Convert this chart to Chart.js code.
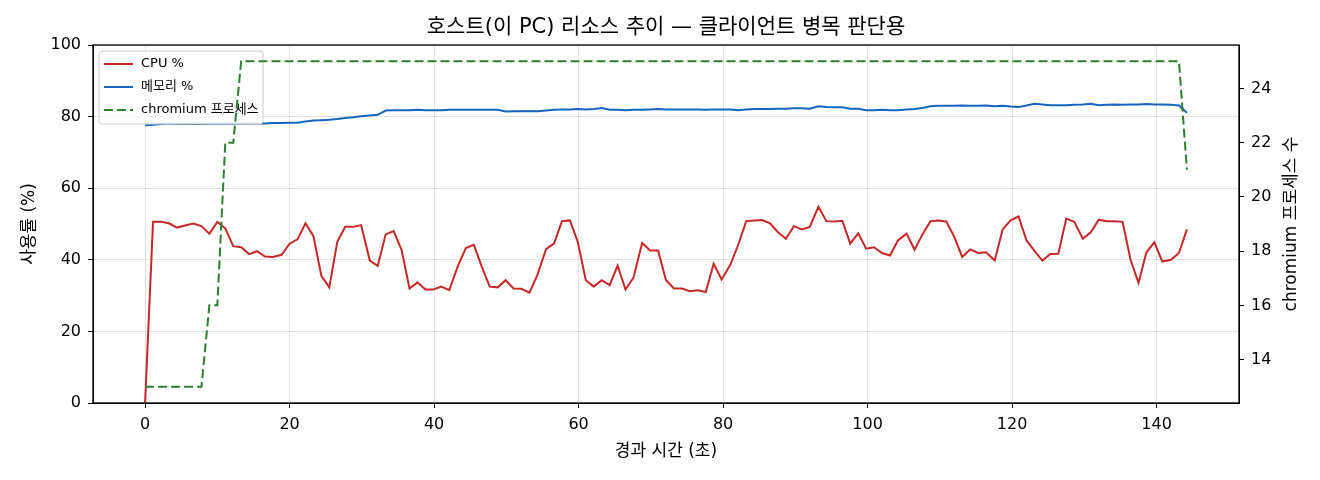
<!DOCTYPE html>
<html>
<head>
<meta charset="utf-8">
<script src="https://cdn.jsdelivr.net/npm/chart.js@4.4.1/dist/chart.umd.min.js"></script>
<style>
  html, body { margin: 0; padding: 0; background: #fff; }
  #wrap { width: 1320px; height: 480px; }
</style>
</head>
<body>
<div id="wrap"><canvas id="myChart" width="1320" height="480"></canvas></div>
<script>
// elapsed time of each sample (s)
var times = [
  0.0, 1.1, 2.2, 3.3, 4.4, 5.5, 6.7, 7.8, 8.9, 10.0,
  11.1, 12.2, 13.3, 14.4, 15.5, 16.6, 17.7, 18.9, 20.0, 21.1,
  22.2, 23.3, 24.4, 25.5, 26.6, 27.7, 28.8, 29.9, 31.1, 32.2,
  33.3, 34.4, 35.5, 36.6, 37.7, 38.8, 39.9, 41.0, 42.1, 43.3,
  44.4, 45.5, 46.6, 47.7, 48.8, 49.9, 51.0, 52.1, 53.2, 54.3,
  55.5, 56.6, 57.7, 58.8, 59.9, 61.0, 62.1, 63.2, 64.3, 65.4,
  66.5, 67.6, 68.8, 69.9, 71.0, 72.1, 73.2, 74.3, 75.4, 76.5,
  77.6, 78.7, 79.8, 81.0, 82.1, 83.2, 84.3, 85.4, 86.5, 87.6,
  88.7, 89.8, 90.9, 92.0, 93.2, 94.3, 95.4, 96.5, 97.6, 98.7,
  99.8, 100.9, 102.0, 103.1, 104.2, 105.4, 106.5, 107.6, 108.7, 109.8,
  110.9, 112.0, 113.1, 114.2, 115.3, 116.4, 117.6, 118.7, 119.8, 120.9,
  122.0, 123.1, 124.2, 125.3, 126.4, 127.5, 128.6, 129.8, 130.9, 132.0,
  133.1, 134.2, 135.3, 136.4, 137.5, 138.6, 139.7, 140.8, 142.0, 143.1,
  144.2
];

var cpuPct = [
  0, 50.6, 50.6, 50.2, 49.0, 49.6, 50.1, 49.4, 47.3, 50.6,
  48.8, 43.8, 43.5, 41.6, 42.4, 40.9, 40.8, 41.4, 44.5, 45.7,
  50.2, 46.6, 35.5, 32.3, 45.0, 49.2, 49.2, 49.7, 39.8, 38.3,
  47.1, 48.0, 42.8, 32.0, 33.7, 31.7, 31.7, 32.5, 31.5, 38.3,
  43.3, 44.2, 38.1, 32.5, 32.3, 34.3, 32.0, 31.9, 30.8, 35.8,
  43.0, 44.5, 50.8, 51.0, 44.9, 34.3, 32.5, 34.3, 32.9, 38.4,
  31.7, 35.0, 44.7, 42.6, 42.6, 34.3, 32.0, 32.0, 31.2, 31.5,
  31.0, 38.9, 34.5, 38.6, 44.2, 50.8, 51.0, 51.1, 50.2, 47.7,
  45.9, 49.4, 48.5, 49.2, 54.8, 50.8, 50.7, 50.9, 44.5, 47.4,
  43.1, 43.5, 41.9, 41.2, 45.4, 47.3, 42.8, 47.1, 50.8, 51.0,
  50.7, 46.4, 40.8, 42.9, 41.9, 42.1, 39.8, 48.5, 51.0, 52.1,
  45.4, 42.5, 39.8, 41.6, 41.7, 51.5, 50.6, 45.9, 47.7, 51.2,
  50.8, 50.8, 50.6, 40.0, 33.6, 42.1, 44.9, 39.5, 40.0, 41.9,
  48.5
];

var memPct = [
  77.6, 77.7, 77.9, 78.1, 77.9, 77.9, 78.0, 77.9, 78.0, 78.0,
  78.1, 78.0, 78.1, 78.1, 78.1, 78.1, 78.2, 78.2, 78.3, 78.3,
  78.6, 78.9, 79.0, 79.1, 79.3, 79.6, 79.8, 80.1, 80.3, 80.5,
  81.7, 81.8, 81.8, 81.8, 81.9, 81.8, 81.8, 81.8, 81.9, 81.9,
  81.9, 81.9, 81.9, 81.9, 81.9, 81.4, 81.5, 81.5, 81.5, 81.5,
  81.7, 81.9, 82.0, 82.0, 82.1, 82.0, 82.1, 82.4, 81.9, 81.9,
  81.8, 81.9, 81.9, 82.0, 82.1, 82.0, 82.0, 82.0, 82.0, 82.0,
  81.9, 82.0, 82.0, 82.0, 81.8, 82.0, 82.1, 82.1, 82.1, 82.2,
  82.2, 82.3, 82.3, 82.2, 82.9, 82.7, 82.6, 82.6, 82.2, 82.2,
  81.8, 81.8, 81.9, 81.8, 81.8, 82.0, 82.1, 82.4, 82.9, 83.0,
  83.0, 83.0, 83.1, 83.0, 83.0, 83.1, 82.9, 83.0, 82.8, 82.7,
  83.1, 83.6, 83.4, 83.2, 83.2, 83.2, 83.3, 83.4, 83.6, 83.2,
  83.3, 83.4, 83.3, 83.4, 83.4, 83.5, 83.4, 83.4, 83.3, 83.1,
  81.1
];

var chromiumCount = [
  13, 13, 13, 13, 13, 13, 13, 13, 16, 16,
  22, 22, 25, 25, 25, 25, 25, 25, 25, 25,
  25, 25, 25, 25, 25, 25, 25, 25, 25, 25,
  25, 25, 25, 25, 25, 25, 25, 25, 25, 25,
  25, 25, 25, 25, 25, 25, 25, 25, 25, 25,
  25, 25, 25, 25, 25, 25, 25, 25, 25, 25,
  25, 25, 25, 25, 25, 25, 25, 25, 25, 25,
  25, 25, 25, 25, 25, 25, 25, 25, 25, 25,
  25, 25, 25, 25, 25, 25, 25, 25, 25, 25,
  25, 25, 25, 25, 25, 25, 25, 25, 25, 25,
  25, 25, 25, 25, 25, 25, 25, 25, 25, 25,
  25, 25, 25, 25, 25, 25, 25, 25, 25, 25,
  25, 25, 25, 25, 25, 25, 25, 25, 25, 25,
  21
];

var xTicksStep = 20;
var leftTicksStep = 20;
var rightTicksStep = 2;

var titleText = "호스트(이 PC) 리소스 추이 — 클라이언트 병목 판단용";
var xLabel = "경과 시간 (초)";
var yLabel = "사용률 (%)";
var y2Label = "chromium 프로세스 수";

var FONT = "'DejaVu Sans', 'Noto Sans CJK KR', sans-serif";

function toPoints(vals) {
    var pts = [];
    for (var i = 0; i < vals.length; i++) {
        pts.push({x: times[i], y: vals[i]});
    }
    return pts;
}

// title, axis titles, frame
var decorPlugin = {
    id: 'decor',
    afterDraw: function(chart) {
        var ctx = chart.ctx;
        var a = chart.chartArea;
        ctx.save();
        ctx.strokeStyle = '#000';
        ctx.lineWidth = 1.3;
        ctx.strokeRect(a.left, a.top, a.right - a.left, a.bottom - a.top);

        ctx.fillStyle = '#000';
        ctx.textAlign = 'center';
        ctx.textBaseline = 'middle';
        ctx.font = '21px ' + FONT;
        ctx.fillText(titleText, (a.left + a.right) / 2, 28);

        ctx.font = '17px ' + FONT;
        ctx.fillText(xLabel, (a.left + a.right) / 2, 452);

        var cy = (a.top + a.bottom) / 2;
        ctx.save();
        ctx.translate(30, cy);
        ctx.rotate(-Math.PI / 2);
        ctx.fillText(yLabel, 0, 0);
        ctx.restore();

        ctx.save();
        ctx.translate(1292, cy);
        ctx.rotate(-Math.PI / 2);
        ctx.fillText(y2Label, 0, 0);
        ctx.restore();
        ctx.restore();
    }
};

// legend in upper left, drawn between memory line and chromium line
var legendPlugin = {
    id: 'innerLegend',
    afterDatasetDraw: function(chart, args) {
        if (args.index !== 1) return;
        var ctx = chart.ctx;
        var a = chart.chartArea;
        var x0 = a.left + 6, y0 = a.top + 6, w = 164, h = 73;
        ctx.save();
        ctx.beginPath();
        ctx.roundRect(x0, y0, w, h, 3);
        ctx.fillStyle = 'rgba(255,255,255,0.8)';
        ctx.fill();
        ctx.strokeStyle = '#cccccc';
        ctx.lineWidth = 1;
        ctx.stroke();
        ctx.font = '13px ' + FONT;
        ctx.textBaseline = 'middle';
        ctx.textAlign = 'left';
        chart.data.datasets.forEach(function(ds, i) {
            var ry = y0 + 13 + i * 23;
            ctx.beginPath();
            ctx.setLineDash(ds.borderDash || []);
            ctx.strokeStyle = ds.borderColor;
            ctx.lineWidth = ds.borderWidth;
            ctx.moveTo(x0 + 5, ry);
            ctx.lineTo(x0 + 34, ry);
            ctx.stroke();
            ctx.setLineDash([]);
            ctx.fillStyle = '#000';
            ctx.fillText(ds.label, x0 + 42, ry);
        });
        ctx.restore();
    }
};

Chart.defaults.font.family = FONT;
Chart.defaults.color = '#000';

const ctx = document.getElementById('myChart');
const myChart = new Chart(ctx, {
    type: 'line',
    data: {
        datasets: [{
            label: 'CPU %',
            data: toPoints(cpuPct),
            borderColor: '#c62828',
            borderWidth: 2,
            pointRadius: 0,
            yAxisID: 'y',
            order: 2
        }, {
            label: '메모리 %',
            data: toPoints(memPct),
            borderColor: '#1565c0',
            borderWidth: 2,
            pointRadius: 0,
            yAxisID: 'y',
            order: 1
        }, {
            label: 'chromium 프로세스',
            data: toPoints(chromiumCount),
            borderColor: '#2e7d32',
            borderWidth: 2,
            borderDash: [9, 4],
            pointRadius: 0,
            yAxisID: 'y2',
            order: 0
        }]
    },
    options: {
        responsive: false,
        animation: false,
        devicePixelRatio: 1,
        layout: { padding: { top: 45, left: 0, right: 0, bottom: 0 } },
        plugins: {
            legend: { display: false },
            title: { display: false },
            tooltip: { enabled: false }
        },
        scales: {
            x: {
                type: 'linear',
                min: -7.21,
                max: 151.41,
                afterFit: function(s) { s.height = 77; },
                ticks: { stepSize: xTicksStep, includeBounds: false, font: { size: 16 }, padding: 7, maxRotation: 0 },
                grid: { color: 'rgba(176,176,176,0.35)', tickColor: '#000', tickLength: 5 },
                border: { display: true, color: '#000' }
            },
            y: {
                position: 'left',
                min: 0,
                max: 100,
                afterFit: function(s) { s.width = 93; },
                ticks: { stepSize: leftTicksStep, font: { size: 16 }, padding: 7 },
                grid: { color: 'rgba(176,176,176,0.35)', tickColor: '#000', tickLength: 5 },
                border: { display: true, color: '#000' }
            },
            y2: {
                position: 'right',
                min: 12.4,
                max: 25.6,
                afterFit: function(s) { s.width = 81; },
                ticks: { stepSize: rightTicksStep, includeBounds: false, font: { size: 16 }, padding: 7 },
                grid: { drawOnChartArea: false, tickColor: '#000', tickLength: 5 },
                border: { display: true, color: '#000' }
            }
        }
    },
    plugins: [legendPlugin, decorPlugin]
});
</script>
</body>
</html>
